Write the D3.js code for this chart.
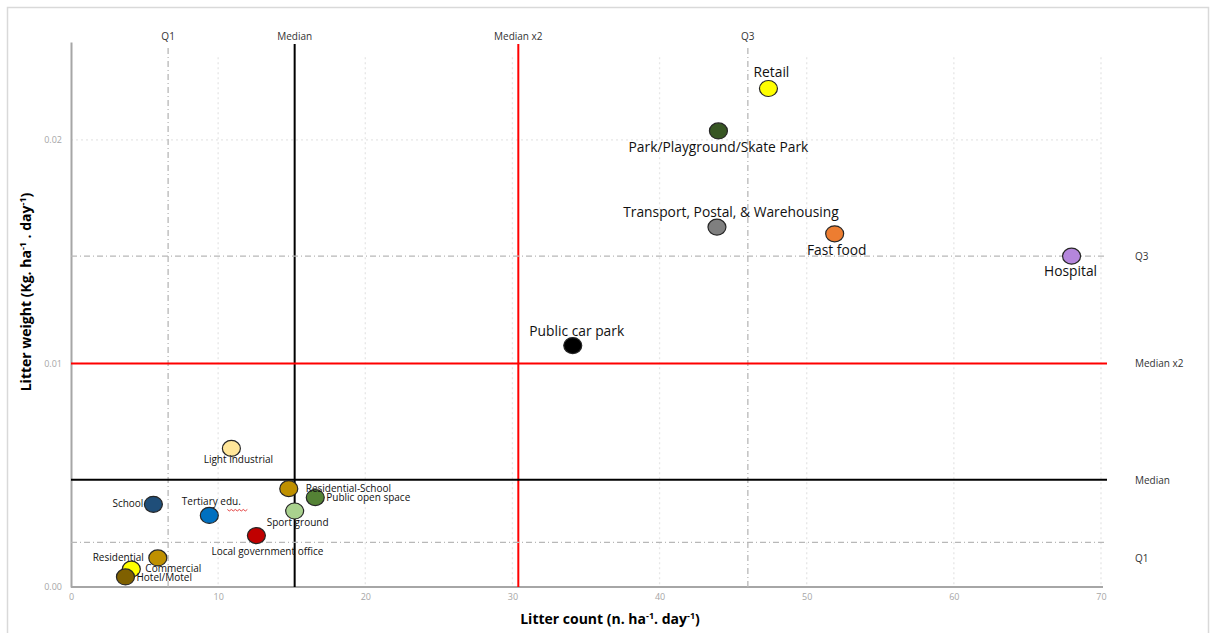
<!DOCTYPE html>
<html><head><meta charset="utf-8">
<script src="https://cdn.jsdelivr.net/npm/d3@7"></script>
<style>
html,body{margin:0;padding:0;background:#fff;}
svg{display:block;}
</style></head>
<body><svg id="chart" width="1216" height="633"></svg>
<script>
// ---- data ----
const categories = ["Retail","Park/Playground/Skate Park","Transport, Postal, & Warehousing","Fast food","Hospital","Public car park","Light industrial","Residential-School","Public open space","Sport ground","School","Tertiary edu.","Local government office","Residential","Commercial","Hotel/Motel"];
const litterCount = [47.4, 44.0, 43.9, 51.9, 68.0, 34.1, 10.9, 14.8, 16.6, 15.2, 5.6, 9.4, 12.6, 5.9, 4.1, 3.7];
const litterWeight = [0.0223, 0.0204, 0.0161, 0.0158, 0.0148, 0.0108, 0.0062, 0.0044, 0.0040, 0.0034, 0.0037, 0.0032, 0.0023, 0.0013, 0.0008, 0.00045];
const pointColors = ["#ffff00","#375623","#7f7f7f","#ed7d31","#b486dc","#000000","#ffe699","#bf9000","#548235","#a9d18e","#1f4e79","#0070c0","#c00000","#bf9000","#ffff00","#7f6000"];
const xTicks = [0,10,20,30,40,50,60,70];
const yTicks = [0,0.01,0.02];
const refXNames = ["Q1","Median","Median x2","Q3"];
const refXValues = [6.6, 15.2, 30.4, 46.0];
const refYNames = ["Q3","Median x2","Median","Q1"];
const refYValues = [0.0148, 0.0100, 0.0048, 0.0020];

// ---- label layout (style only) ----
// [dx, dy, anchor, fontSize]
const labelLayout = [
  [3,-11,"middle",13.8],[0,21,"middle",13.8],[14,-10,"middle",13.8],[2,21,"middle",13.8],[-1,20,"middle",13.8],[4,-10,"middle",13.8],
  [7,15,"middle",10],[17,3,"start",10],[11,3,"start",10],[3,15,"middle",10],[-10,3,"end",10],[2,-10,"middle",10],
  [11,19,"middle",10],[-14,3,"end",10],[14,3,"start",10],[11,4,"start",10]
];
const refStyles = {"Q1":{stroke:"#b8b8b8",w:1.3,dash:"6,3,1,3"},"Q3":{stroke:"#b8b8b8",w:1.3,dash:"6,3,1,3"},
  "Median":{stroke:"#000",w:2,dash:null},"Median x2":{stroke:"#ff0000",w:2,dash:null}};

const svg = d3.select("#chart");
const font = "'Open Sans', 'Noto Sans', sans-serif";

// frame
svg.append("rect").attr("x",7.5).attr("y",7.5).attr("width",1201).attr("height",630)
  .attr("fill","none").attr("stroke","#d9d9d9").attr("stroke-width",1.5);

const x = d3.scaleLinear().domain([0,70]).range([71,1101]);
const y = d3.scaleLinear().domain([0,0.02438]).range([587,42]);

// gridlines
const grid = svg.append("g");
grid.selectAll("line.vg").data(xTicks.filter(d=>d>0)).join("line")
  .attr("x1",d=>x(d)).attr("x2",d=>x(d)).attr("y1",y(0.0237)).attr("y2",y(0))
  .attr("stroke","#e6e6e6").attr("stroke-width",1.3).attr("stroke-dasharray","2,3");
grid.selectAll("line.hg").data(yTicks.filter(d=>d>0)).join("line")
  .attr("x1",x(0)).attr("x2",x(70)).attr("y1",d=>y(d)).attr("y2",d=>y(d))
  .attr("stroke","#e6e6e6").attr("stroke-width",1.3).attr("stroke-dasharray","2,3");

// axes
const xAxis = svg.append("g").attr("transform",`translate(0,${y(0)})`)
  .call(d3.axisBottom(x).tickValues(xTicks).tickSize(0).tickPadding(7).tickFormat(d3.format("d")));
const yAxis = svg.append("g").attr("transform",`translate(${x(0)},0)`)
  .call(d3.axisLeft(y).tickValues(yTicks).tickSize(0).tickPadding(9).tickFormat(d3.format(".2f")));
[xAxis,yAxis].forEach(a=>{
  a.select(".domain").attr("stroke","#a6a6a6").attr("stroke-width",2);
  a.selectAll("text").attr("fill","#a6a6a6").attr("font-size",9).attr("font-family",font);
});
xAxis.select(".domain").attr("d",`M${x(0)},0H${x(70)+2}`);

// reference lines vertical
refXNames.forEach((n,i)=>{
  const s = refStyles[n];
  const top = s.dash ? 48 : 44;
  svg.append("line").attr("x1",x(refXValues[i])).attr("x2",x(refXValues[i]))
    .attr("y1",top).attr("y2",y(0)).attr("stroke",s.stroke).attr("stroke-width",s.w)
    .attr("stroke-dasharray",s.dash);
  svg.append("text").attr("x",x(refXValues[i])).attr("y",40).attr("text-anchor","middle")
    .attr("font-family",font).attr("font-size",10).attr("fill","#333").text(n);
});
// reference lines horizontal
refYNames.forEach((n,i)=>{
  const s = refStyles[n];
  svg.append("line").attr("x1",x(0)).attr("x2",x(70)+6)
    .attr("y1",y(refYValues[i])).attr("y2",y(refYValues[i])).attr("stroke",s.stroke).attr("stroke-width",s.w)
    .attr("stroke-dasharray",s.dash);
  svg.append("text").attr("x",1135).attr("y",y(refYValues[i]) + (n==="Q1"?20:4)).attr("text-anchor","start")
    .attr("font-family",font).attr("font-size",10).attr("fill","#333").text(n);
});

// points
const pts = categories.map((c,i)=>({c, x:litterCount[i], y:litterWeight[i], col:pointColors[i], lay:labelLayout[i]}));
svg.append("g").selectAll("ellipse").data(pts).join("ellipse")
  .attr("cx",d=>x(d.x)).attr("cy",d=>y(d.y)).attr("rx",9).attr("ry",8)
  .attr("fill",d=>d.col).attr("stroke","#262626").attr("stroke-width",1.2);

svg.append("g").selectAll("text").data(pts).join("text")
  .attr("x",d=>x(d.x)+d.lay[0]).attr("y",d=>y(d.y)+d.lay[1])
  .attr("text-anchor",d=>d.lay[2]).attr("font-size",d=>d.lay[3])
  .attr("font-family",font).attr("fill","#111").text(d=>d.c);

// spell-check squiggle under "edu."
{
  const d = pts.find(p=>p.c==="Tertiary edu.");
  const x0 = x(d.x)+18, y0 = y(d.y)-6;
  let path = `M${x0},${y0}`;
  for(let k=1;k<=10;k++) path += `L${x0+k*2},${y0+(k%2?1.5:0)}`;
  svg.append("path").attr("d",path).attr("fill","none").attr("stroke","#e03030").attr("stroke-width",0.9);
}

// axis titles
svg.append("text").attr("x",610).attr("y",624).attr("text-anchor","middle")
  .attr("font-family",font).attr("font-weight","bold").attr("font-size",14).attr("fill","#000")
  .html('Litter count (n. ha<tspan dy="-5" font-size="9">-1</tspan><tspan dy="5">. day</tspan><tspan dy="-5" font-size="9">-1</tspan><tspan dy="5">)</tspan>');
svg.append("text").attr("transform","translate(31,292) rotate(-90)").attr("text-anchor","middle")
  .attr("font-family",font).attr("font-weight","bold").attr("font-size",14).attr("fill","#000")
  .html('Litter weight (Kg. ha<tspan dy="-5" font-size="9">-1</tspan><tspan dy="5"> . day</tspan><tspan dy="-5" font-size="9">-1</tspan><tspan dy="5">)</tspan>');
</script></body></html>
